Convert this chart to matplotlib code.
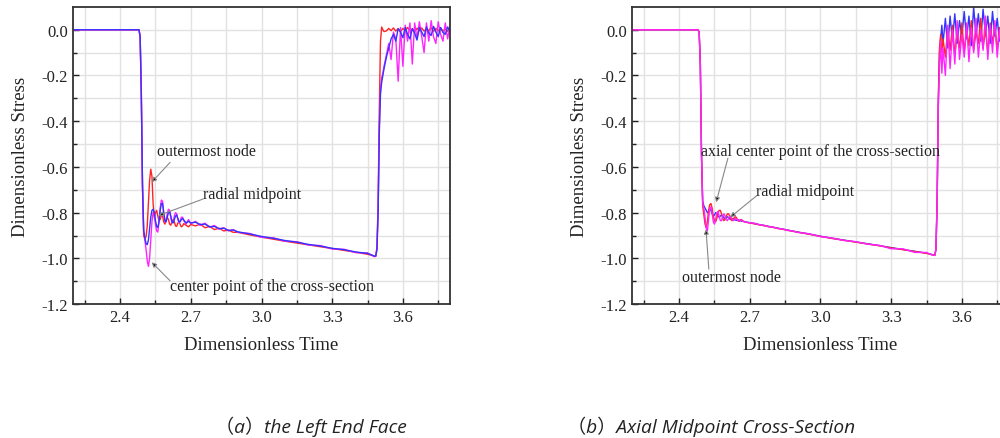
import matplotlib
matplotlib.use('Agg')
import matplotlib.pyplot as plt
from matplotlib.ticker import FixedLocator, FormatStrFormatter

plt.rcParams['font.family'] = 'Liberation Serif'
plt.rcParams['axes.unicode_minus'] = False

# dimensionless time samples (shared by both panels)
t = [2.20, 2.48,
     2.485, 2.49, 2.495, 2.50, 2.505, 2.51, 2.515, 2.52, 2.525, 2.53,
     2.535, 2.54, 2.545, 2.55, 2.555, 2.56, 2.565, 2.57, 2.575, 2.58,
     2.585, 2.59, 2.595, 2.60, 2.605, 2.61, 2.615, 2.62, 2.625, 2.63,
     2.635, 2.64, 2.645, 2.65, 2.655, 2.66, 2.665, 2.67,
     2.68, 2.69, 2.70,
     2.72, 2.74, 2.76, 2.78, 2.80, 2.82, 2.84, 2.86, 2.88, 2.90,
     2.95, 3.00, 3.05, 3.10, 3.15, 3.20, 3.25, 3.30, 3.35, 3.40, 3.45,
     3.47, 3.48,
     3.485, 3.49, 3.495, 3.50, 3.505, 3.51, 3.515, 3.52,
     3.53, 3.54, 3.55, 3.56, 3.57, 3.58, 3.59, 3.60, 3.61, 3.62,
     3.63, 3.64, 3.65, 3.66, 3.67, 3.68, 3.69, 3.70, 3.71, 3.72,
     3.73, 3.74, 3.75, 3.76, 3.77, 3.78, 3.79, 3.80]

# (a) left end face
outer_a = [0.0, 0.0,
           -0.03, -0.30, -0.70, -0.90, -0.915, -0.905, -0.86, -0.76, -0.66, -0.61,
           -0.64, -0.76, -0.82, -0.80, -0.79, -0.815, -0.835, -0.83, -0.81, -0.815,
           -0.84, -0.85, -0.835, -0.82, -0.83, -0.85, -0.855, -0.84, -0.83, -0.84,
           -0.858, -0.86, -0.845, -0.84, -0.852, -0.862, -0.858, -0.848,
           -0.855, -0.862, -0.852,
           -0.858, -0.850, -0.866, -0.860, -0.874, -0.868, -0.880, -0.876, -0.886, -0.886,
           -0.897, -0.907, -0.916, -0.925, -0.933, -0.941, -0.949, -0.957, -0.965, -0.973, -0.982,
           -0.987, -0.992,
           -0.99, -0.95, -0.75, -0.35, -0.05, 0.012, 0.0, -0.008,
           -0.005, 0.006, -0.004, 0.008, -0.006, 0.005, -0.008, 0.006, -0.004, 0.01,
           -0.006, 0.004, -0.008, 0.007, -0.005, 0.008, -0.006, 0.005, -0.004, 0.009,
           -0.007, 0.006, -0.005, 0.008, -0.006, 0.004, -0.007, 0.005]
mid_a = [0.0, 0.0,
         -0.03, -0.28, -0.68, -0.88, -0.91, -0.935, -0.94, -0.92, -0.87, -0.82,
         -0.79, -0.785, -0.80, -0.835, -0.86, -0.865, -0.84, -0.79, -0.76, -0.76,
         -0.80, -0.835, -0.84, -0.82, -0.80, -0.795, -0.815, -0.84, -0.845, -0.83,
         -0.815, -0.81, -0.825, -0.84, -0.84, -0.83, -0.825, -0.832,
         -0.845, -0.838, -0.845,
         -0.842, -0.852, -0.850, -0.862, -0.860, -0.870, -0.868, -0.878, -0.876, -0.884,
         -0.893, -0.904, -0.912, -0.922, -0.929, -0.939, -0.946, -0.956, -0.962, -0.972, -0.978,
         -0.986, -0.99,
         -0.99, -0.96, -0.80, -0.45, -0.28, -0.23, -0.20, -0.17,
         -0.12, -0.08, -0.04, -0.02, -0.05, 0.005, -0.01, -0.035, 0.01, -0.02,
         -0.04, 0.005, -0.015, -0.045, 0.01, -0.01, -0.03, 0.012, -0.015, -0.025,
         0.015, -0.01, -0.03, 0.01, -0.012, -0.02, 0.012, -0.008]
center_a = [0.0, 0.0,
            -0.03, -0.28, -0.68, -0.88, -0.92, -0.96, -1.01, -1.035, -1.00, -0.92,
            -0.84, -0.80, -0.81, -0.85, -0.88, -0.885, -0.84, -0.78, -0.745, -0.75,
            -0.80, -0.84, -0.835, -0.805, -0.785, -0.79, -0.82, -0.845, -0.84, -0.815,
            -0.80, -0.805, -0.83, -0.845, -0.835, -0.82, -0.82, -0.835,
            -0.85, -0.83, -0.848,
            -0.838, -0.856, -0.846, -0.864, -0.856, -0.872, -0.866, -0.880, -0.874, -0.886,
            -0.891, -0.908, -0.910, -0.925, -0.927, -0.942, -0.944, -0.959, -0.960, -0.975, -0.976,
            -0.988, -0.992,
            -0.99, -0.96, -0.78, -0.42, -0.26, -0.21, -0.19, -0.16,
            -0.11, -0.06, -0.13, -0.01, -0.04, -0.225, 0.01, -0.16, 0.02, -0.05,
            0.03, -0.15, 0.03, -0.04, 0.035, -0.03, -0.10, 0.03, -0.05, 0.04,
            -0.03, -0.06, 0.035, -0.02, -0.05, 0.03, -0.04, 0.02]

# (b) axial midpoint cross-section
outer_b = [0.0, 0.0,
           -0.01, -0.15, -0.55, -0.77, -0.81, -0.85, -0.865, -0.84, -0.79, -0.765,
           -0.76, -0.78, -0.815, -0.835, -0.84, -0.825, -0.80, -0.79, -0.79, -0.805,
           -0.825, -0.835, -0.83, -0.815, -0.805, -0.805, -0.815, -0.83, -0.835, -0.83,
           -0.82, -0.818, -0.825, -0.835, -0.838, -0.832, -0.83, -0.836,
           -0.841, -0.843, -0.845,
           -0.849, -0.853, -0.857, -0.861, -0.865, -0.869, -0.873, -0.877, -0.881, -0.885,
           -0.894, -0.904, -0.913, -0.921, -0.929, -0.937, -0.945, -0.954, -0.962, -0.970, -0.978,
           -0.983, -0.986,
           -0.987, -0.96, -0.75, -0.30, -0.08, -0.02, -0.10, -0.04,
           -0.12, 0.01, -0.09, 0.02, -0.11, -0.01, -0.08, 0.03, -0.10, 0.0,
           -0.07, 0.04, -0.09, -0.01, -0.06, 0.05, -0.08, 0.0, -0.10, 0.03,
           -0.06, 0.02, -0.09, 0.01, -0.07, 0.03, -0.08, -0.02]
mid_b = [0.0, 0.0,
         -0.01, -0.15, -0.55, -0.75, -0.77, -0.78, -0.79, -0.80, -0.795, -0.785,
         -0.79, -0.805, -0.815, -0.81, -0.80, -0.805, -0.815, -0.82, -0.815, -0.81,
         -0.815, -0.822, -0.826, -0.822, -0.818, -0.822, -0.828, -0.83, -0.828, -0.826,
         -0.83, -0.833, -0.834, -0.832, -0.833, -0.836, -0.837, -0.838,
         -0.840, -0.842, -0.844,
         -0.848, -0.852, -0.856, -0.860, -0.864, -0.868, -0.872, -0.876, -0.880, -0.884,
         -0.893, -0.903, -0.912, -0.920, -0.928, -0.936, -0.944, -0.953, -0.961, -0.969, -0.977,
         -0.982, -0.985,
         -0.987, -0.96, -0.75, -0.32, -0.10, -0.04, 0.02, -0.06,
         0.05, -0.08, 0.06, -0.05, 0.07, -0.06, 0.04, -0.03, 0.08, -0.04,
         0.06, -0.07, 0.10, -0.03, 0.07, -0.05, 0.09, -0.02, 0.06, -0.06,
         0.08, -0.03, 0.05, -0.05, 0.07, -0.02, 0.06, -0.04]
center_b = [0.0, 0.0,
            -0.01, -0.15, -0.55, -0.76, -0.78, -0.82, -0.87, -0.88, -0.83, -0.78,
            -0.775, -0.80, -0.84, -0.85, -0.83, -0.80, -0.795, -0.815, -0.835, -0.835,
            -0.815, -0.805, -0.815, -0.83, -0.835, -0.825, -0.815, -0.818, -0.83, -0.835,
            -0.83, -0.825, -0.83, -0.836, -0.834, -0.83, -0.834, -0.838,
            -0.840, -0.843, -0.844,
            -0.846, -0.853, -0.855, -0.862, -0.863, -0.870, -0.871, -0.878, -0.879, -0.886,
            -0.892, -0.905, -0.911, -0.922, -0.927, -0.938, -0.943, -0.958, -0.958, -0.974, -0.974,
            -0.984, -0.985,
            -0.987, -0.96, -0.75, -0.34, -0.16, -0.05, -0.19, -0.08,
            -0.20, 0.02, -0.17, 0.0, -0.15, 0.04, -0.13, -0.02, -0.12, 0.03,
            -0.14, 0.01, -0.10, 0.05, -0.12, 0.0, -0.09, 0.06, -0.13, 0.02,
            -0.10, 0.04, -0.12, 0.0, -0.09, 0.03, -0.11, 0.01]

x_ticks = [2.4, 2.7, 3.0, 3.3, 3.6]
x_minor = [2.25, 2.55, 2.85, 3.15, 3.45, 3.75]
y_ticks = [-1.2, -1.0, -0.8, -0.6, -0.4, -0.2, 0.0]
y_minor = [-1.1, -0.9, -0.7, -0.5, -0.3, -0.1]

RED, BLUE, PINK = '#ff2424', '#3434ff', '#ff24ff'

fig = plt.figure(figsize=(10, 4.39), dpi=100)
ax_a = fig.add_axes([0.073, 0.305, 0.377, 0.677])
ax_b = fig.add_axes([0.632, 0.305, 0.377, 0.677])


def style_panel(ax):
    ax.set_xlim(2.2, 3.8)
    ax.set_ylim(-1.2, 0.1)
    ax.xaxis.set_major_locator(FixedLocator(x_ticks))
    ax.xaxis.set_minor_locator(FixedLocator(x_minor))
    ax.yaxis.set_major_locator(FixedLocator(y_ticks))
    ax.yaxis.set_minor_locator(FixedLocator(y_minor))
    ax.xaxis.set_major_formatter(FormatStrFormatter('%.1f'))
    ax.yaxis.set_major_formatter(FormatStrFormatter('%.1f'))
    ax.grid(which='both', color='#e2e2e2', lw=1.0)
    ax.set_axisbelow(True)
    ax.tick_params(which='both', direction='in', labelsize=12, colors='#222222', width=1.0)
    ax.tick_params(which='major', length=4)
    ax.tick_params(which='minor', length=3)
    for sp in ax.spines.values():
        sp.set_linewidth(1.3)
        sp.set_color('#333333')
    ax.set_xlabel('Dimensionless Time', fontsize=13.5, labelpad=8, color='#222222')
    ax.set_ylabel('Dimensionless Stress', fontsize=13.5, labelpad=9, color='#222222')


def label(ax, text, pos, tail, tip):
    ax.text(pos[0], pos[1], text, fontsize=11.5, ha='left', va='center', color='#222222')
    ax.annotate('', xy=tip, xytext=tail,
                arrowprops=dict(arrowstyle='-|>', fc='black', ec='#888888', lw=0.8,
                                mutation_scale=7, shrinkA=0, shrinkB=0))


# left panel: blue drawn last, right panel: magenta drawn last
ax_a.plot(t, outer_a, color=RED, lw=1.0)
ax_a.plot(t, center_a, color=PINK, lw=1.0)
ax_a.plot(t, mid_a, color=BLUE, lw=1.0)
ax_b.plot(t, mid_b, color=BLUE, lw=1.0)
ax_b.plot(t, outer_b, color=RED, lw=1.0)
ax_b.plot(t, center_b, color=PINK, lw=1.0)
style_panel(ax_a)
style_panel(ax_b)

label(ax_a, 'outermost node', (2.557, -0.53), (2.612, -0.58), (2.534, -0.667))
label(ax_a, 'radial midpoint', (2.752, -0.718), (2.753, -0.74), (2.562, -0.813))
label(ax_a, 'center point of the cross-section', (2.612, -1.121), (2.612, -1.098), (2.534, -1.017))

label(ax_b, 'axial center point of the cross-section', (2.493, -0.529), (2.607, -0.562), (2.557, -0.755))
label(ax_b, 'radial midpoint', (2.726, -0.704), (2.729, -0.726), (2.617, -0.82))
label(ax_b, 'outermost node', (2.414, -1.083), (2.526, -1.047), (2.514, -0.872))

cap_font = ['Open Sans', 'Noto Sans CJK SC']
fig.text(0.215, 0.028, '（a）the Left End Face', fontsize=13.8, style='italic',
         family=cap_font, va='center', color='#222222')
fig.text(0.567, 0.028, '（b）Axial Midpoint Cross-Section', fontsize=13.8, style='italic',
         family=cap_font, va='center', color='#222222')

fig.savefig('out.png', dpi=100)
